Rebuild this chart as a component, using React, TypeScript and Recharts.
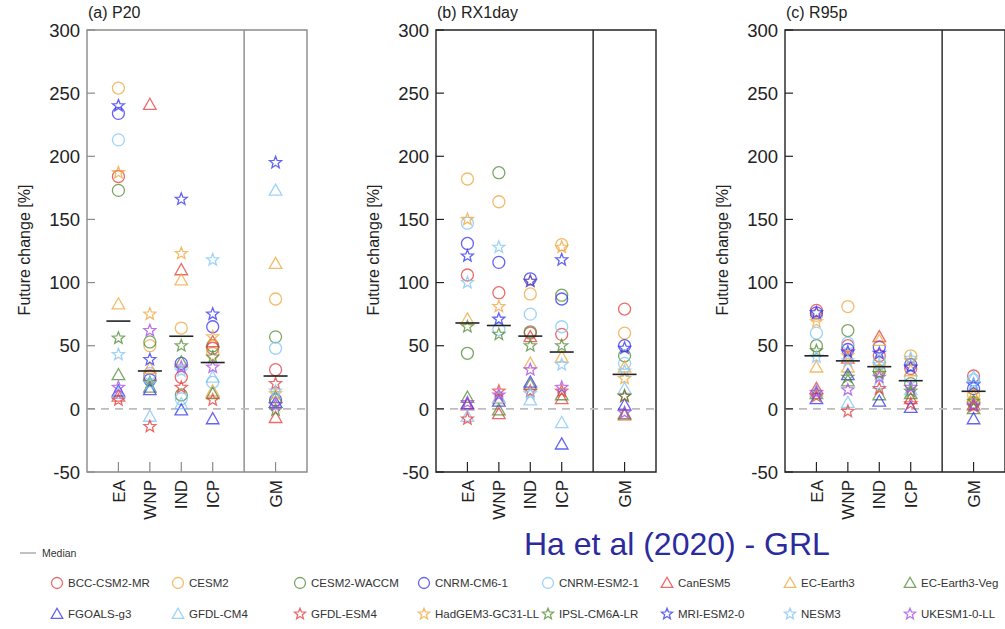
import React from 'react';
import {
    ScatterChart,
    Scatter,
    XAxis,
    YAxis,
    ReferenceLine,
    ReferenceArea
} from 'recharts';

// region labels and their x slots (5 is the divider before the global mean)
const regions = ['EA', 'WNP', 'IND', 'ICP', 'GM'];
const regionX = [1, 2, 3, 4, 6];
const yTicks = [-50, 0, 50, 100, 150, 200, 250, 300];

type Kind = 'circle' | 'triangle' | 'star';

const modelNames = [
    'BCC-CSM2-MR', 'CESM2', 'CESM2-WACCM', 'CNRM-CM6-1', 'CNRM-ESM2-1', 'CanESM5', 'EC-Earth3', 'EC-Earth3-Veg',
    'FGOALS-g3', 'GFDL-CM4', 'GFDL-ESM4', 'HadGEM3-GC31-LL', 'IPSL-CM6A-LR', 'MRI-ESM2-0', 'NESM3', 'UKESM1-0-LL'
];
const modelKinds: Kind[] = [
    'circle', 'circle', 'circle', 'circle', 'circle', 'triangle', 'triangle', 'triangle',
    'triangle', 'triangle', 'star', 'star', 'star', 'star', 'star', 'star'
];
const RED = '#e53a3a';
const ORANGE = '#efa63a';
const GREEN = '#4f8a32';
const BLUE = '#2f2ff0';
const LIGHT = '#7cc4f6';
const PURPLE = '#a447e6';
const modelColors = [
    RED, ORANGE, GREEN, BLUE, LIGHT, RED, ORANGE, GREEN,
    BLUE, LIGHT, RED, ORANGE, GREEN, BLUE, LIGHT, PURPLE
];

// values per model, in region order EA, WNP, IND, ICP, GM
const p20 = [
    [184, 26, 25, 48, 31],
    [254, 50, 64, 44, 87],
    [173, 53, 11, 50, 57],
    [234, 23, 36, 65, 7],
    [213, 28, 8, 21, 48],
    [10, 241, 110, 53, -7],
    [83, 32, 102, 14, 115],
    [27, 17, 37, 12, 9],
    [14, 15, -1, -8, 5],
    [12, -6, 4, 25, 173],
    [7, -14, 17, 7, 20],
    [187, 75, 123, 57, 12],
    [56, 21, 50, 41, -1],
    [240, 39, 166, 75, 195],
    [43, 20, 30, 118, 14],
    [17, 62, 33, 33, 3]
];
const p20Median = [69.5, 30, 57.5, 36.7, 26];

const rx1day = [
    [106, 92, 60, 59, 79],
    [182, 164, 91, 130, 60],
    [44, 187, 61, 90, 42],
    [131, 116, 103, 87, 50],
    [147, 63, 75, 65, 36],
    [3, -4, 57, 8, -5],
    [71, 8, 36, 41, 33],
    [9, -1, 19, 11, -4],
    [4, 6, 21, -28, 3],
    [-6, 9, 7, -11, 16],
    [-8, 14, 14, 14, 10],
    [150, 81, 101, 128, 24],
    [65, 59, 50, 50, 10],
    [121, 71, 101, 118, 48],
    [100, 128, 12, 35, 30],
    [5, 11, 31, 17, -3]
];
const rx1dayMedian = [68, 66, 57.6, 45, 27.3];

const r95p = [
    [78, 50, 42, 32, 26],
    [74, 81, 36, 42, 11],
    [50, 62, 30, 20, 5],
    [76, 47, 49, 35, 16],
    [60, 52, 38, 25, 23],
    [16, 40, 57, 8, 3],
    [33, 33, 54, 30, 10],
    [12, 22, 11, 12, 0],
    [8, 27, 6, 1, -8],
    [14, 5, 20, 15, 25],
    [10, -2, 16, 4, 2],
    [69, 42, 32, 38, 12],
    [46, 25, 28, 14, 6],
    [76, 45, 44, 33, 19],
    [41, 38, 35, 40, 20],
    [13, 15, 25, 17, 3]
];
const r95pMedian = [42, 38, 33.4, 22.3, 13.9];

const FONT = '"Liberation Sans", Arial, Helvetica, sans-serif';
const NARROW = '"Liberation Sans Narrow", "Liberation Sans", Arial, sans-serif';

function Marker({ cx, cy, kind, color, r = 6 }: { cx: number; cy: number; kind: Kind; color: string; r?: number }) {
    const common = { fill: 'none', stroke: color, strokeWidth: 1.3, strokeOpacity: 0.75 };
    if (kind === 'circle') return <circle cx={cx} cy={cy} r={r} {...common} />;
    if (kind === 'triangle') {
        const pts = `${cx},${cy - r * 1.05} ${cx - r * 1.05},${cy + r * 0.8} ${cx + r * 1.05},${cy + r * 0.8}`;
        return <polygon points={pts} {...common} />;
    }
    const pts: string[] = [];
    for (let i = 0; i < 10; i++) {
        const rad = i % 2 === 0 ? r * 1.05 : r * 0.45;
        const a = -Math.PI / 2 + (i * Math.PI) / 5;
        pts.push(`${cx + rad * Math.cos(a)},${cy + rad * Math.sin(a)}`);
    }
    return <polygon points={pts.join(' ')} {...common} />;
}

function MedianMark(props: any) {
    return <line x1={props.cx - 12} x2={props.cx + 12} y1={props.cy} y2={props.cy} stroke="#222" strokeWidth={1.6} />;
}

const YTick = (color: string) => (props: any) => {
    const { x, y, payload } = props;
    const ax = x + 7;
    return (
        <g>
            <line x1={ax} x2={ax + 8} y1={y} y2={y} stroke={color} strokeWidth={1.2} />
            <text x={x} y={y} dy="0.36em" textAnchor="end" fontSize={18.5} fontFamily={FONT} fill="#222">
                {payload.value}
            </text>
        </g>
    );
};

const XTick = (color: string) => (props: any) => {
    const { x, y, payload } = props;
    const ay = y - 8;
    const label = regions[regionX.indexOf(payload.value)];
    return (
        <g>
            <line x1={x} x2={x} y1={ay} y2={ay - 10} stroke={color} strokeWidth={1.2} />
            <text transform={`translate(${x},${y}) rotate(-90)`} dy="0.36em" textAnchor="end" fontSize={17} fontFamily={FONT} fill="#222">
                {label}
            </text>
        </g>
    );
};

function Panel({ left, title, values, medians, frame }: { left: number; title: string; values: number[][]; medians: number[]; frame: string }) {
    const medianData = medians.map((v, i) => ({ x: regionX[i], y: v }));
    return (
        <div style={{ position: 'absolute', left: left - 87, top: 0, width: 310, height: 629 }}>
            <div style={{ position: 'absolute', left: 88, top: 4, fontSize: 16, fontFamily: FONT, color: '#222' }}>{title}</div>
            <div
                style={{
                    position: 'absolute', left: 25, top: 250, fontSize: 16, fontFamily: FONT, color: '#222',
                    transform: 'translate(-50%, -50%) rotate(-90deg)', whiteSpace: 'nowrap'
                }}
            >
                Future change [%]
            </div>
            <ScatterChart width={310} height={629} margin={{ top: 30, right: 3, left: 0, bottom: 97 }}>
                <XAxis
                    type="number"
                    dataKey="x"
                    domain={[0, 7]}
                    ticks={regionX}
                    interval={0}
                    height={60}
                    axisLine={false}
                    tickLine={false}
                    tickSize={0}
                    tickMargin={8}
                    tick={XTick(frame)}
                    allowDataOverflow
                />
                <YAxis
                    type="number"
                    dataKey="y"
                    domain={[-50, 300]}
                    ticks={yTicks}
                    interval={0}
                    width={87}
                    axisLine={false}
                    tickLine={false}
                    tickSize={0}
                    tickMargin={7}
                    tick={YTick(frame)}
                    allowDataOverflow
                />
                <ReferenceArea x1={0} x2={7} y1={-50} y2={300} fill="none" stroke={frame} strokeWidth={1.4} />
                <ReferenceLine x={5} stroke={frame} strokeWidth={1.4} />
                <ReferenceLine y={0} stroke="#bdbdbd" strokeWidth={1.6} strokeDasharray="8 6" />
                {values.map((vals, m) => (
                    <Scatter
                        key={modelNames[m]}
                        name={modelNames[m]}
                        data={vals.map((v, i) => ({ x: regionX[i], y: v }))}
                        isAnimationActive={false}
                        shape={(p: any) => <Marker cx={p.cx} cy={p.cy} kind={modelKinds[m]} color={modelColors[m]} />}
                    />
                ))}
                <Scatter name="Median" data={medianData} isAnimationActive={false} shape={MedianMark} />
            </ScatterChart>
        </div>
    );
}

const legendX = [57, 178, 300, 424, 548, 667, 790, 910];

export default function App() {
    return (
        <div style={{ position: 'absolute', left: 0, top: 0, width: 1005, height: 629, background: '#fff', overflow: 'hidden' }}>
            <Panel left={87} title="(a) P20" values={p20} medians={p20Median} frame="#8a8a8a" />
            <Panel left={436} title="(b) RX1day" values={rx1day} medians={rx1dayMedian} frame="#222" />
            <Panel left={785} title="(c) R95p" values={r95p} medians={r95pMedian} frame="#222" />

            <div
                style={{
                    position: 'absolute', left: 524, top: 526, fontSize: 32, fontFamily: FONT, color: '#2b2b9e', whiteSpace: 'nowrap'
                }}
            >
                Ha et al (2020) - GRL
            </div>

            <svg width={1005} height={100} style={{ position: 'absolute', left: 0, top: 529 }}>
                <line x1={20} x2={36} y1={24} y2={24} stroke="#999" strokeWidth={1.2} />
                <text x={42} y={24} dy="0.35em" fontSize={10.5} fontFamily={NARROW} fill="#333">Median</text>
                {modelNames.map((name, m) => {
                    const row = Math.floor(m / 8);
                    const col = m % 8;
                    const cx = legendX[col];
                    const cy = row === 0 ? 54 : 85;
                    return (
                        <g key={name}>
                            <Marker cx={cx} cy={cy} kind={modelKinds[m]} color={modelColors[m]} r={5.5} />
                            <text x={cx + 11} y={cy} dy="0.35em" fontSize={11.5} fontFamily={NARROW} fill="#333">{name}</text>
                        </g>
                    );
                })}
            </svg>
        </div>
    );
}
